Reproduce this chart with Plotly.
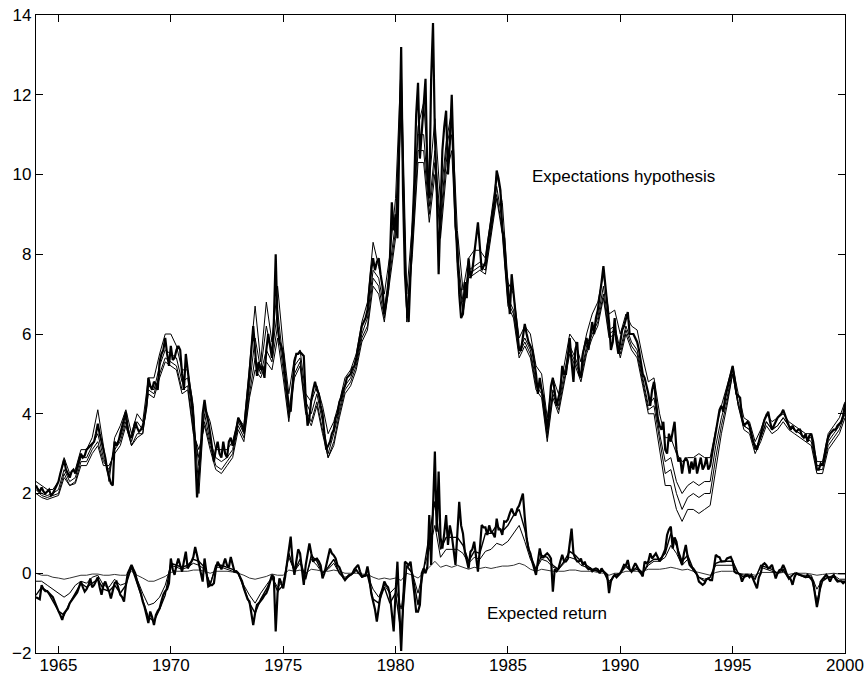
import plotly.graph_objects as go

START_YEAR = 1964

# ---- Expectations hypothesis: thick (main) series, monthly, 1964:01 - 2000:01
EH_MAIN = [
    2.2, 2.1, 2.05, 2.15, 2.05, 2.0, 2.05, 2.1, 1.95, 2.0, 2.1, 2.2,        # 1964
    2.3, 2.5, 2.7, 2.85, 2.6, 2.5, 2.4, 2.55, 2.6, 2.5, 2.65, 2.8,          # 1965
    3.0, 2.9, 2.95, 3.1, 3.15, 3.2, 3.25, 3.3, 3.5, 3.75, 3.5, 3.3,         # 1966
    3.1, 2.9, 2.6, 2.4, 2.25, 2.2, 3.3, 3.2, 3.3, 3.5, 3.7, 3.9,            # 1967
    4.05, 3.6, 3.45, 3.4, 3.6, 3.8, 3.65, 3.55, 3.6, 3.7, 3.9, 4.2,         # 1968
    4.9, 4.7, 4.6, 4.8, 4.75, 4.6, 5.3, 5.5, 5.6, 5.9, 5.5, 5.2,            # 1969
    5.7, 5.35, 5.4, 5.6, 5.7, 5.6, 5.0, 4.6, 5.5, 5.0, 4.7, 4.4,           # 1970
    3.9, 3.0, 1.9, 2.5, 3.1, 4.0, 4.35, 4.0, 3.8, 3.5, 3.2, 2.8,            # 1971
    3.1, 3.3, 3.0, 2.9, 3.3, 3.0, 2.9, 3.3, 3.4, 3.2, 3.4, 3.6,             # 1972
    3.9, 3.8, 3.7, 3.55, 4.0, 4.4, 5.0, 5.6, 6.2, 5.6, 4.95, 5.3,          # 1973
    5.1, 5.2, 4.9, 5.6, 6.0, 5.7, 5.4, 6.3, 8.0, 6.2, 5.8, 5.7,             # 1974
    5.5, 5.0, 4.5, 4.2, 4.05, 4.6, 5.3, 5.5, 5.5, 5.55, 5.5, 5.45,         # 1975
    4.4, 3.7, 3.9, 4.35, 4.6, 4.8, 4.6, 4.5, 4.2, 4.0, 3.5, 3.1,            # 1976
    3.2, 3.3, 3.5, 3.6, 3.9, 4.0, 4.3, 4.4, 4.6, 4.7, 4.9, 4.95,            # 1977
    5.0, 5.15, 5.2, 5.4, 5.7, 5.9, 6.2, 6.3, 6.4, 6.6, 7.2, 7.6,            # 1978
    7.9, 7.6, 7.8, 7.9, 7.5, 7.2, 6.5, 6.8, 7.1, 7.9, 9.3, 8.6,             # 1979
    9.0, 8.4, 10.5, 13.2, 9.5, 7.5, 6.7, 6.3, 7.5, 8.6, 9.8, 11.5,          # 1980
    12.3, 10.4, 11.0, 11.6, 12.4, 10.0, 9.4, 12.4, 13.8, 11.0, 9.6, 7.5,    # 1981
    9.0, 10.6, 11.2, 11.6, 10.0, 10.8, 12.0, 10.0, 8.7, 8.3, 7.0, 6.4,      # 1982
    6.5, 7.3, 6.9, 7.9, 7.4, 7.6, 8.0, 8.3, 8.8, 8.2, 7.6, 7.7,             # 1983
    7.8, 8.2, 8.5, 8.8, 9.0, 9.4, 10.1, 9.9, 9.6, 8.6, 8.4, 7.6,            # 1984
    7.2, 6.5, 7.5, 7.0, 6.6, 6.0, 5.6, 5.6, 5.9, 6.25, 6.0, 5.8,            # 1985
    5.7, 5.6, 5.3, 5.0, 4.5, 4.9, 4.6, 4.4, 4.0, 3.6, 4.1, 4.7,             # 1986
    4.9, 4.5, 4.2, 4.4, 4.6, 5.2, 5.0, 5.0, 5.4, 5.9, 5.3, 4.8,             # 1987
    5.6, 5.8, 5.0, 4.9, 5.5, 5.7, 5.9, 5.6, 6.0, 6.3, 6.0, 6.4,             # 1988
    6.6, 6.9, 7.3, 7.7, 7.2, 6.9, 6.3, 5.6, 5.8, 6.4, 5.8, 5.5,             # 1989
    5.8, 6.1, 6.2, 6.4, 6.55, 6.0, 6.0, 6.0, 5.9, 5.8, 5.6, 5.3,            # 1990
    5.0, 4.9, 4.7, 4.5, 4.2, 4.6, 4.8, 4.3, 3.9, 3.7, 3.6, 3.8,             # 1991
    3.1, 3.0, 3.5, 3.3, 3.6, 3.8, 3.1, 2.8, 2.9, 2.5, 2.8, 2.9,             # 1992
    2.8, 2.5, 2.8, 2.6, 2.9, 2.5, 2.7, 2.9, 2.6, 2.7, 2.9, 2.6,             # 1993
    2.7, 3.0, 3.3, 3.5, 3.9, 4.1, 4.2, 4.05, 4.4, 4.6, 4.85, 5.0,           # 1994
    5.2, 4.9, 4.5, 4.45, 4.4, 3.9, 3.7, 3.75, 3.8, 3.7, 3.5, 3.3,           # 1995
    3.2, 3.1, 3.3, 3.5, 3.7, 3.85, 3.95, 4.05, 3.8, 3.6, 3.7, 3.8,          # 1996
    3.9, 3.95, 4.0, 4.1, 3.95, 3.85, 3.7, 3.6, 3.7, 3.6, 3.55, 3.6,         # 1997
    3.6, 3.45, 3.4, 3.5, 3.3, 3.45, 3.5, 3.3, 2.9, 2.6, 2.6, 2.75,          # 1998
    2.7, 2.9, 3.2, 3.4, 3.5, 3.55, 3.6, 3.6, 3.7, 3.75, 3.8, 3.95,          # 1999
    4.25,                                                                   # 2000
]

# ---- Expectations hypothesis: thin series, quarterly
EH_THIN_A = [
    2.3, 2.2, 2.1, 2.1,  2.3, 2.9, 2.5, 2.6,  3.1, 3.1, 3.4, 4.1,  3.2, 2.3, 3.4, 3.7,
    4.1, 3.5, 4.0, 3.8,  4.9, 4.9, 5.5, 6.0,  6.0, 5.7, 5.1, 5.1,  4.2, 2.0, 4.2, 3.8,
    3.1, 3.1, 3.1, 3.3,  3.9, 3.7, 5.3, 6.7,  5.3, 6.8, 5.8, 7.2,  5.7, 4.5, 5.4, 5.6,
    4.5, 4.3, 4.7, 4.2,  3.5, 3.8, 4.3, 4.9,  5.1, 5.5, 6.3, 6.8,  8.3, 7.7, 7.0, 8.0,
    9.4, 12.8, 7.0, 8.8,  11.2, 11.8, 9.8, 11.4,  9.3, 10.8, 11.6, 8.6,  7.1, 7.9, 8.1, 8.1,
    7.9, 8.9, 10.0, 9.3,  7.3, 7.0, 5.9, 6.2,  6.0, 5.2, 5.0, 3.9,  4.9, 4.5, 5.2, 6.0,
    5.8, 5.3, 6.0, 6.5,  6.8, 7.5, 6.5, 6.6,  6.0, 6.5, 6.2, 6.1,  5.4, 4.8, 4.9, 4.0,
    3.4, 3.4, 3.0, 2.8,  2.9, 2.9, 3.0, 2.9,  2.9, 3.6, 4.2, 4.7,  5.2, 4.5, 3.9, 3.8,
    3.3, 3.6, 4.0, 3.8,  3.9, 4.0, 3.8, 3.7,  3.6, 3.5, 3.5, 2.8,  2.8, 3.5, 3.7, 3.9,
    4.3,
]
EH_THIN_B = [
    2.2, 2.0, 1.95, 2.0,  2.1, 2.6, 2.3, 2.4,  2.9, 2.9, 3.2, 3.5,  2.9, 2.5, 3.2, 3.4,
    3.9, 3.3, 3.8, 3.6,  4.7, 4.6, 5.2, 5.6,  5.5, 5.4, 4.8, 4.9,  3.8, 2.7, 4.0, 3.3,
    2.9, 2.8, 2.9, 3.1,  3.8, 3.5, 4.7, 5.9,  5.1, 6.2, 5.5, 6.6,  5.3, 4.0, 5.2, 5.4,
    4.3, 4.0, 4.5, 3.8,  3.0, 3.5, 4.1, 4.7,  4.9, 5.3, 6.0, 6.4,  7.6, 7.4, 6.6, 7.7,
    8.8, 12.5, 6.5, 8.4,  11.0, 11.0, 9.2, 10.6,  8.8, 10.6, 11.4, 8.0,  6.8, 7.6, 7.7, 7.8,
    7.7, 8.6, 9.7, 8.8,  6.9, 6.6, 5.6, 5.9,  5.6, 4.8, 4.6, 3.5,  4.6, 4.2, 5.0, 5.7,
    5.4, 5.0, 5.7, 6.1,  6.4, 7.2, 6.1, 6.2,  5.6, 6.2, 5.8, 5.6,  4.9, 4.2, 4.4, 3.5,
    2.8, 2.9, 2.3, 2.0,  2.2, 2.3, 2.2, 2.3,  2.3, 3.2, 3.9, 4.4,  5.1, 4.3, 3.7, 3.6,
    3.1, 3.4, 3.8, 3.6,  3.7, 3.9, 3.7, 3.6,  3.5, 3.4, 3.4, 2.7,  2.7, 3.3, 3.5, 3.7,
    4.1,
]
EH_THIN_C = [
    2.1, 1.95, 1.9, 1.95,  2.0, 2.5, 2.2, 2.3,  2.8, 2.8, 3.1, 3.3,  2.8, 2.6, 3.1, 3.3,
    3.8, 3.2, 3.5, 3.5,  4.6, 4.5, 5.0, 5.4,  5.3, 5.2, 4.6, 4.7,  3.6, 2.9, 3.8, 3.2,
    2.7, 2.6, 2.8, 3.0,  3.7, 3.4, 4.5, 5.4,  5.0, 5.6, 5.3, 6.2,  5.1, 3.9, 5.0, 5.3,
    4.1, 3.8, 4.3, 3.6,  2.9, 3.3, 4.0, 4.6,  4.8, 5.2, 5.9, 6.2,  7.4, 7.2, 6.4, 7.5,
    8.6, 12.0, 6.4, 8.2,  10.6, 10.6, 9.0, 10.3,  8.6, 10.3, 11.0, 7.8,  6.6, 7.5, 7.6, 7.7,
    7.6, 8.5, 9.5, 8.6,  6.8, 6.5, 5.5, 5.8,  5.5, 4.7, 4.5, 3.4,  4.5, 4.1, 4.9, 5.6,
    5.3, 4.9, 5.6, 6.0,  6.3, 7.0, 6.0, 6.1,  5.5, 6.1, 5.7, 5.5,  4.8, 4.1, 4.2, 3.3,
    2.5, 2.6, 2.0, 1.6,  1.9, 2.0, 1.9, 2.0,  2.0, 2.9, 3.7, 4.3,  5.0, 4.2, 3.7, 3.6,
    3.1, 3.4, 3.8, 3.6,  3.7, 3.9, 3.7, 3.6,  3.5, 3.4, 3.3, 2.6,  2.6, 3.2, 3.4, 3.6,
    4.0,
]
EH_THIN_D = [
    2.0, 1.9, 1.85, 1.9,  1.95, 2.4, 2.2, 2.25,  2.7, 2.7, 3.0, 3.2,  2.7, 2.7, 3.0, 3.2,
    3.7, 3.2, 3.4, 3.5,  4.5, 4.4, 4.9, 5.3,  5.2, 5.1, 4.5, 4.6,  3.5, 3.1, 3.7, 3.1,
    2.6, 2.5, 2.7, 2.9,  3.6, 3.3, 4.4, 5.1,  4.9, 5.3, 5.1, 5.9,  4.9, 3.8, 4.9, 5.2,
    4.0, 3.7, 4.2, 3.5,  2.9, 3.2, 3.9, 4.5,  4.7, 5.1, 5.8, 6.1,  7.2, 7.0, 6.3, 7.3,
    8.4, 11.6, 6.3, 8.0,  10.3, 10.3, 8.8, 10.0,  8.4, 10.0, 10.6, 7.6,  6.5, 7.4, 7.5, 7.6,
    7.5, 8.4, 9.4, 8.5,  6.7, 6.4, 5.4, 5.7,  5.4, 4.6, 4.4, 3.3,  4.4, 4.0, 4.8, 5.5,
    5.2, 4.8, 5.5, 5.9,  6.2, 6.9, 5.9, 6.0,  5.4, 6.0, 5.6, 5.4,  4.7, 4.0, 4.0, 3.1,
    2.2, 2.2, 1.6, 1.3,  1.6, 1.6, 1.5, 1.6,  1.7, 2.6, 3.5, 4.2,  5.0, 4.2, 3.6, 3.5,
    3.0, 3.3, 3.7, 3.5,  3.6, 3.8, 3.6, 3.5,  3.4, 3.3, 3.2, 2.5,  2.5, 3.1, 3.3, 3.5,
    3.9,
]

# ---- Expected return: thick (main) series, monthly
ER_MAIN = [
    -0.6, -0.62, -0.65, -0.3, -0.4, -0.45, -0.45, -0.5, -0.55, -0.6, -0.72, -0.85,   # 1964
    -0.95, -1.05, -1.17, -1.0, -0.95, -0.88, -0.75, -0.68, -0.63, -0.55, -0.48, -0.35,  # 1965
    -0.21, -0.35, -0.46, -0.4, -0.3, -0.13, -0.35, -0.3, -0.21, -0.1, -0.35, -0.54,  # 1966
    -0.3, -0.21, -0.35, -0.45, -0.63, -0.4, -0.25, -0.21, -0.4, -0.54, -0.6, -0.71,  # 1967
    -0.3, 0.0, 0.1, 0.21, 0.1, 0.0, -0.21, -0.35, -0.5, -0.71, -0.85, -1.05,        # 1968
    -1.25, -0.96, -1.1, -1.3, -1.05, -0.95, -0.88, -0.7, -0.54, -0.45, -0.4, -0.25,  # 1969
    0.37, 0.1, -0.04, 0.2, 0.37, 0.2, 0.04, 0.3, 0.54, 0.12, 0.2, 0.29,              # 1970
    0.4, 0.66, 0.45, 0.21, 0.0, -0.21, 0.37, 0.0, -0.33, -0.3, -0.3, -0.25,          # 1971
    0.1, 0.29, 0.2, 0.1, 0.21, 0.37, 0.2, 0.15, 0.41, 0.2, 0.04, 0.05,               # 1972
    0.0, -0.1, -0.2, -0.38, -0.5, -0.65, -0.71, -1.0, -1.3, -1.0, -0.79, -0.75,      # 1973
    -0.7, -0.63, -0.55, -0.5, -0.38, -0.2, -0.04, -0.1, -1.46, -0.5, -0.13, -0.25,   # 1974
    -0.38, -0.1, 0.21, 0.5, 0.92, 0.3, -0.04, 0.3, 0.6, 0.5, 0.1, -0.29,             # 1975
    0.2, 0.5, 0.75, 0.5, 0.29, 0.35, 0.37, 0.3, 0.2, -0.13, 0.0, 0.2,                # 1976
    0.4, 0.62, 0.5, 0.45, 0.37, 0.2, 0.15, 0.0, -0.1, -0.17, -0.1, -0.05,            # 1977
    -0.04, 0.0, 0.1, 0.15, 0.21, 0.05, -0.08, -0.06, -0.04, 0.17, -0.1, -0.5,        # 1978
    -0.71, -0.9, -1.21, -0.8, -0.54, -0.4, -0.21, -0.3, -0.35, -0.54, -1.0, -1.46,   # 1979
    -0.5, 0.29, -0.88, -1.95, -0.8, 0.29, 0.25, 0.2, 0.29, -0.04, -0.5, -0.96,       # 1980
    -0.96, -0.79, 0.0, 0.12, 0.0, 0.17, 1.46, 0.21, 1.4, 3.05, 1.04, 2.55,           # 1981
    0.9, 0.62, 1.0, 1.46, 0.71, 1.2, 0.96, 0.5, 0.21, 1.0, 1.79, 1.2,                # 1982
    1.0, 0.54, 0.3, 0.12, 0.54, 0.6, 0.79, 0.4, 0.04, 0.6, 1.21, 1.15,               # 1983
    1.15, 0.96, 1.2, 1.04, 1.0, 0.9, 1.37, 1.1, 1.1, 0.96, 1.3, 1.29,                # 1984
    1.35, 1.5, 1.62, 1.5, 1.45, 1.62, 1.7, 1.85, 2.0, 1.4, 0.87, 0.6,                # 1985
    0.5, 0.29, 0.1, -0.04, 0.3, 0.62, 0.4, 0.4, 0.46, 0.5, 0.45, 0.37,               # 1986
    -0.46, 0.1, 0.05, 0.12, 0.3, 0.46, 0.3, 0.3, 0.37, 0.8, 1.12, 0.5,               # 1987
    0.37, 0.3, 0.3, 0.37, 0.2, 0.29, 0.15, 0.1, 0.12, 0.05, 0.1, 0.12,               # 1988
    0.1, 0.0, 0.12, 0.05, 0.0, -0.04, -0.5, -0.2, -0.1, -0.04, -0.1, -0.05,          # 1989
    0.0, 0.1, 0.21, 0.2, 0.33, 0.1, 0.04, 0.15, 0.25, 0.17, 0.05, 0.0,               # 1990
    -0.08, 0.29, 0.25, 0.3, 0.5, 0.37, 0.45, 0.5, 0.4, 0.3, 0.37, 0.5,               # 1991
    0.6, 0.96, 1.1, 1.17, 0.62, 0.9, 0.79, 0.5, 0.37, 0.21, 0.5, 0.71,               # 1992
    0.4, 0.21, 0.15, 0.12, 0.05, -0.04, -0.21, -0.25, -0.29, -0.25, -0.15, -0.13,    # 1993
    -0.17, -0.17, 0.1, 0.46, 0.42, 0.4, 0.29, 0.3, 0.3, 0.37, 0.4, 0.41,             # 1994
    0.3, 0.04, 0.0, 0.0, -0.04, -0.21, -0.1, -0.04, -0.04, -0.1, -0.04, -0.15,       # 1995
    -0.25, -0.38, -0.1, 0.0, 0.21, 0.25, 0.2, 0.12, 0.15, 0.21, 0.05, -0.13,         # 1996
    0.0, 0.08, 0.1, 0.21, 0.1, -0.04, -0.1, -0.15, -0.29, -0.1, 0.0, -0.02,          # 1997
    -0.05, -0.08, -0.1, -0.1, -0.04, -0.1, -0.13, -0.2, -0.54, -0.85, -0.6, -0.21,   # 1998
    -0.15, -0.1, -0.04, -0.1, -0.21, -0.1, -0.04, -0.15, -0.21, -0.2, -0.2, -0.25,   # 1999
    -0.21,                                                                            # 2000
]

# ---- Expected return: other series, quarterly
ER_SECOND = [
    -0.55, -0.35, -0.45, -0.7,  -0.95, -1.05, -0.75, -0.5,  -0.25, -0.35, -0.25, -0.15,  -0.4, -0.45, -0.3, -0.5,
    -0.3, 0.15, -0.25, -0.65,  -1.1, -1.2, -0.9, -0.55,  0.25, 0.2, 0.15, 0.2,  0.35, 0.3, 0.15, -0.3,
    0.2, 0.2, 0.15, 0.1,  0.0, -0.35, -0.75, -1.0,  -0.65, -0.4, -0.1, -0.45,  -0.3, 0.5, 0.05, 0.35,
    -0.15, 0.45, 0.3, 0.0,  0.15, 0.35, 0.0, -0.15,  -0.05, 0.1, -0.1, -0.05,  -0.65, -0.75, -0.35, -0.75,
    -0.5, -1.5, 0.2, 0.0,  -0.8, 0.1, 0.9, 1.8,  0.6, 0.9, 0.9, 0.9,  0.7, 0.3, 0.55, 0.5,
    1.0, 1.0, 1.2, 1.05,  1.2, 1.45, 1.6, 1.1,  0.45, 0.1, 0.45, 0.4,  0.2, 0.1, 0.3, 0.55,
    0.45, 0.3, 0.2, 0.1,  0.05, 0.05, -0.25, -0.05,  0.0, 0.2, 0.05, 0.15,  0.0, 0.25, 0.35, 0.35,
    0.5, 1.0, 0.7, 0.3,  0.45, 0.1, -0.1, -0.2,  -0.1, 0.25, 0.3, 0.3,  0.3, 0.0, -0.1, -0.05,
    -0.15, 0.2, 0.15, 0.1,  0.0, 0.1, -0.15, 0.0,  -0.05, -0.1, -0.1, -0.7,  -0.2, -0.1, -0.1, -0.2,
    -0.2,
]
ER_MIDDLE = [
    -0.2, -0.2, -0.3, -0.4,  -0.5, -0.6, -0.5, -0.3,  -0.2, -0.25, -0.1, -0.05,  -0.3, -0.35, -0.15, -0.3,
    -0.25, 0.15, -0.15, -0.5,  -0.8, -0.75, -0.6, -0.3,  0.2, 0.15, 0.1, 0.15,  0.25, 0.2, 0.1, -0.25,
    0.15, 0.15, 0.1, 0.05,  0.0, -0.3, -0.55, -0.75,  -0.5, -0.3, -0.1, -0.35,  -0.2, 0.4, 0.05, 0.25,
    -0.1, 0.35, 0.2, 0.0,  0.1, 0.25, 0.0, -0.1,  -0.05, 0.05, -0.1, -0.05,  -0.4, -0.6, -0.3, -0.5,
    -0.35, -0.9, 0.15, 0.0,  -0.5, 0.1, 0.6, 1.2,  0.4, 0.6, 0.6, 0.6,  0.5, 0.25, 0.4, 0.35,
    0.55, 0.6, 0.75, 0.7,  0.8, 1.0, 1.2, 0.8,  0.35, 0.1, 0.35, 0.3,  0.15, 0.1, 0.25, 0.4,
    0.35, 0.2, 0.15, 0.1,  0.05, 0.05, -0.2, -0.05,  0.0, 0.15, 0.05, 0.1,  0.0, 0.2, 0.3, 0.3,
    0.4, 0.7, 0.5, 0.2,  0.35, 0.05, -0.1, -0.15,  -0.1, 0.2, 0.2, 0.2,  0.2, 0.0, -0.05, -0.05,
    -0.1, 0.15, 0.1, 0.05,  0.0, 0.05, -0.1, 0.0,  -0.05, -0.05, -0.05, -0.4,  -0.15, -0.1, -0.05, -0.15,
    -0.15,
]
ER_FLAT = [
    0.0, -0.05, -0.05, -0.1,  -0.12, -0.15, -0.12, -0.08,  -0.05, -0.05, -0.02, -0.02,  -0.05, -0.05, -0.03, -0.05,
    -0.05, 0.05, -0.05, -0.12,  -0.2, -0.2, -0.15, -0.08,  0.02, 0.05, 0.05, 0.05,  0.08, 0.08, 0.05, 0.0,
    0.05, 0.05, 0.05, 0.03,  0.0, -0.05, -0.12, -0.15,  -0.12, -0.08, -0.02, -0.05,  -0.05, 0.08, 0.05, 0.08,
    0.0, 0.1, 0.08, 0.05,  0.05, 0.08, 0.05, 0.0,  0.0, 0.0, -0.02, -0.03,  -0.1, -0.15, -0.12, -0.15,
    -0.12, -0.18, 0.0, -0.05,  -0.12, 0.0, 0.15, 0.3,  0.15, 0.2, 0.15, 0.2,  0.15, 0.1, 0.15, 0.12,
    0.15, 0.12, 0.15, 0.18,  0.18, 0.2, 0.25, 0.2,  0.1, 0.05, 0.1, 0.08,  0.05, 0.05, 0.05, 0.08,
    0.08, 0.05, 0.05, 0.05,  0.02, 0.0, -0.05, 0.0,  0.0, 0.05, 0.05, 0.05,  0.05, 0.1, 0.1, 0.1,
    0.12, 0.15, 0.12, 0.08,  0.1, 0.05, 0.02, -0.02,  -0.05, 0.02, 0.05, 0.05,  0.05, 0.0, -0.02, -0.02,
    -0.05, 0.02, 0.02, 0.02,  0.0, 0.02, -0.03, 0.0,  0.0, 0.0, -0.02, -0.05,  -0.03, -0.02, 0.0, -0.02,
    -0.02,
]

X_TICKS = [1965, 1970, 1975, 1980, 1985, 1990, 1995, 2000]
Y_TICKS = [-2, 0, 2, 4, 6, 8, 10, 12, 14]
LABEL_EH = "Expectations hypothesis"
LABEL_ER = "Expected return"


def monthly_x(vals):
    return [START_YEAR + i / 12 for i in range(len(vals))]


def quarterly_x(vals):
    return [START_YEAR + i / 4 for i in range(len(vals))]


fig = go.Figure()

for vals in (EH_THIN_A, EH_THIN_B, EH_THIN_C, EH_THIN_D):
    fig.add_trace(go.Scatter(x=quarterly_x(vals), y=vals, mode="lines",
                             line=dict(color="black", width=1), hoverinfo="skip"))
fig.add_trace(go.Scatter(x=monthly_x(EH_MAIN), y=EH_MAIN, mode="lines",
                         line=dict(color="black", width=2.2)))

fig.add_trace(go.Scatter(x=quarterly_x(ER_FLAT), y=ER_FLAT, mode="lines",
                         line=dict(color="#333333", width=1)))
fig.add_trace(go.Scatter(x=quarterly_x(ER_MIDDLE), y=ER_MIDDLE, mode="lines",
                         line=dict(color="black", width=1)))
fig.add_trace(go.Scatter(x=quarterly_x(ER_SECOND), y=ER_SECOND, mode="lines",
                         line=dict(color="black", width=1.4)))
fig.add_trace(go.Scatter(x=monthly_x(ER_MAIN), y=ER_MAIN, mode="lines",
                         line=dict(color="black", width=2.2)))

font = dict(family="Liberation Sans, Arial, sans-serif", size=17, color="black")

fig.add_annotation(x=1986.0, y=9.94, text=LABEL_EH, showarrow=False,
                   xanchor="left", yanchor="middle", font=font)
fig.add_annotation(x=1983.96, y=-1.02, text=LABEL_ER, showarrow=False,
                   xanchor="left", yanchor="middle", font=font)

axis_common = dict(
    showline=True, linecolor="black", linewidth=1.2, mirror="allticks",
    ticks="inside", ticklen=7, tickwidth=1, tickcolor="black",
    showgrid=False, zeroline=False, tickfont=font,
    ticklabeloverflow="allow",
)

fig.update_layout(
    width=864, height=677,
    margin=dict(l=36, r=19, t=15, b=24, autoexpand=False),
    paper_bgcolor="white", plot_bgcolor="white",
    showlegend=False,
    xaxis=dict(range=[1964, 2000], tickvals=X_TICKS, ticklabelstandoff=-4, **axis_common),
    yaxis=dict(range=[-2, 14], tickvals=Y_TICKS, **axis_common),
)

fig.write_html(
    "out.html",
    config={"displayModeBar": False},
    post_script="document.body.style.margin='0px';document.body.style.overflow='hidden';",
)
